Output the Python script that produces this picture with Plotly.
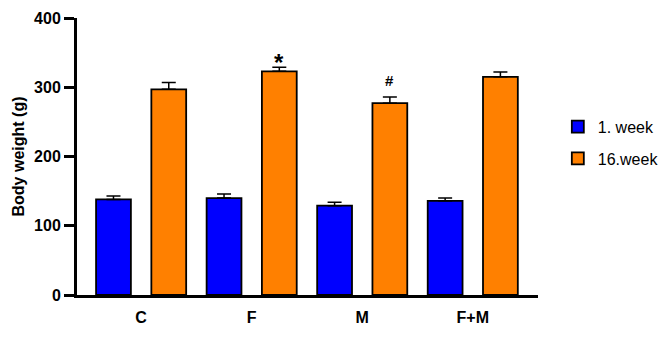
import plotly.graph_objects as go

categories = ["C", "F", "M", "F+M"]
week1 = [138, 140, 129, 136]
week1_err = [5, 6, 5, 4]
week16 = [297, 323, 277, 315]
week16_err = [10, 6, 9, 7]
sig_marks = ["", "*", "#", ""]
y_ticks = [0, 100, 200, 300, 400]

FONT = "Liberation Sans, Arial, sans-serif"

fig = go.Figure()
fig.add_trace(go.Bar(
    x=categories, y=week1, name="1. week", legendgroup="a",
    marker=dict(color="#0000FF", line=dict(color="black", width=1.8)),
    error_y=dict(type="data", array=week1_err, arrayminus=[0]*4, symmetric=False,
                 color="black", thickness=1.5, width=7),
))
fig.add_trace(go.Bar(
    x=categories, y=week16, name="16.week", legendgroup="b",
    marker=dict(color="#FF8000", line=dict(color="black", width=1.8)),
    error_y=dict(type="data", array=week16_err, arrayminus=[0]*4, symmetric=False,
                 color="black", thickness=1.5, width=7),
))

mark_style = {"*": dict(size=24, yshift=-11), "#": dict(size=15, yshift=6)}
for i, m in enumerate(sig_marks):
    if m:
        st = mark_style[m]
        fig.add_annotation(
            x=i + 0.25, y=week16[i] + week16_err[i], xref="x", yref="y",
            text=f"<b>{m}</b>", showarrow=False, yanchor="bottom", yshift=st["yshift"],
            font=dict(family=FONT, size=st["size"], color="black"),
        )

fig.update_layout(
    width=661, height=329,
    margin=dict(l=69, r=131, t=10, b=42, autoexpand=False),
    paper_bgcolor="white", plot_bgcolor="white",
    barmode="group", bargap=0, bargroupgap=0.37,
    font=dict(family=FONT, color="black"),
    showlegend=True,
    legend=dict(x=1.043, xanchor="left", y=0.55, yanchor="middle",
                font=dict(family=FONT, size=16, color="black"),
                traceorder="grouped", tracegroupgap=8,
                bgcolor="rgba(0,0,0,0)", itemwidth=30),
)
fig.update_xaxes(
    range=[-0.58, 3.59], showline=True, linecolor="black", linewidth=3,
    ticks="", showgrid=False, zeroline=False, automargin=False,
    tickfont=dict(family=FONT, size=16, color="black"),
    tickvals=list(range(len(categories))), ticktext=[f"<b>{c}</b>" for c in categories],
    ticklabelstandoff=6,
)
fig.update_yaxes(
    range=[0, 400], showline=True, linecolor="black", linewidth=3,
    ticks="outside", ticklen=10, tickwidth=3, tickcolor="black",
    tickvals=y_ticks, ticktext=[f"<b>{v}</b>" for v in y_ticks],
    tickfont=dict(family=FONT, size=16, color="black"),
    showgrid=False, zeroline=False, automargin=False,
    title=dict(text="<b>Body weight (g)</b>", font=dict(family=FONT, size=16, color="black"), standoff=6),
)

fig.write_html("out.html")
